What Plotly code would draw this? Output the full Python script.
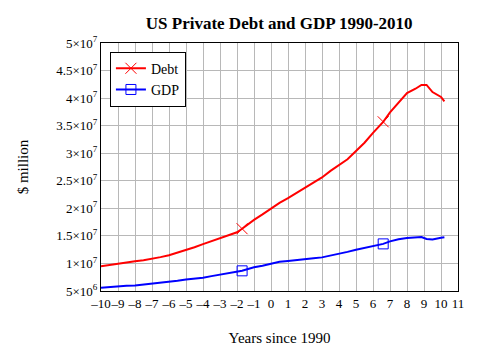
import plotly.graph_objects as go

years = [-10, -9.5, -9, -8.5, -8, -7.5, -7, -6.5, -6, -5.5, -5, -4.5, -4, -3.5, -3, -2.5, -2, -1.7,
         -1.5, -1, -0.5, 0, 0.5, 1, 1.5, 2, 2.5, 3, 3.5, 4, 4.5, 5, 5.5, 6, 6.6,
         7, 7.5, 8, 8.5, 8.85, 9.15, 9.5, 10, 10.2]
debt = [9.5, 9.75, 10.0, 10.2, 10.4, 10.6, 10.85, 11.15, 11.5, 11.95, 12.4, 12.95, 13.5, 14.05, 14.6, 15.15, 15.65, 16.3,
        16.8, 17.9, 18.9, 20.0, 21.0, 21.85, 22.8, 23.8, 24.6, 25.6, 26.8, 27.85, 28.9, 30.4, 31.9, 33.7, 35.7,
        37.4, 39.2, 40.9, 41.7, 42.4, 42.4, 41.1, 40.2, 39.4]
gdp = [5.6, 5.75, 5.85, 5.95, 6.0, 6.15, 6.3, 6.45, 6.6, 6.85, 7.1, 7.25, 7.4, 7.7, 7.95, 8.25, 8.5, 8.66,
       8.85, 9.3, 9.6, 10.0, 10.3, 10.45, 10.65, 10.8, 10.95, 11.1, 11.4, 11.75, 12.1, 12.5, 12.85, 13.2, 13.55,
       14.0, 14.4, 14.6, 14.7, 14.8, 14.45, 14.35, 14.65, 14.75]
debt = [v * 1e6 for v in debt]
gdp = [v * 1e6 for v in gdp]
marker_idx = [17, 34]

x_ticks = list(range(-10, 12))
x_labels = [("–" + str(-v)) if v < 0 else str(v) for v in x_ticks]
y_ticks = [5e6, 1e7, 1.5e7, 2e7, 2.5e7, 3e7, 3.5e7, 4e7, 4.5e7, 5e7]
y_labels = ["5×10<sup>6</sup>", "1×10<sup>7</sup>", "1.5×10<sup>7</sup>", "2×10<sup>7</sup>",
            "2.5×10<sup>7</sup>", "3×10<sup>7</sup>", "3.5×10<sup>7</sup>", "4×10<sup>7</sup>",
            "4.5×10<sup>7</sup>", "5×10<sup>7</sup>"]

FONT = "Liberation Serif"
GRID = "#b8b8b8"
fig = go.Figure()
fig.add_trace(go.Scatter(
    x=years, y=debt, name="Debt", mode="lines+markers",
    line=dict(color="#ff0000", width=2),
    marker=dict(symbol="x-thin", size=11, color="#ff0000", line=dict(color="#ff0000", width=1)),
    selectedpoints=marker_idx, unselected=dict(marker=dict(opacity=0)),
    selected=dict(marker=dict(opacity=1)),
))
fig.add_trace(go.Scatter(
    x=years, y=gdp, name="GDP", mode="lines+markers",
    line=dict(color="#0000ff", width=2),
    marker=dict(symbol="square-open", size=10, color="#0000ff", line=dict(color="#0000ff", width=1)),
    selectedpoints=marker_idx, unselected=dict(marker=dict(opacity=0)),
    selected=dict(marker=dict(opacity=1)),
))

fig.update_layout(
    template="none",
    width=483, height=351,
    margin=dict(l=101, r=25, t=43, b=60),
    paper_bgcolor="white", plot_bgcolor="white",
    font=dict(family=FONT, size=14, color="black"),
    title=dict(text="<b>US Private Debt and GDP 1990-2010</b>", x=0.578, xanchor="center",
               y=0.935, yanchor="middle", font=dict(family=FONT, size=17, color="black")),
    showlegend=True,
    legend=dict(x=0.025, y=0.965, xanchor="left", yanchor="top", bgcolor="white",
                bordercolor="black", borderwidth=1, font=dict(family=FONT, size=14),
                tracegroupgap=0, itemwidth=30),
    xaxis=dict(range=[-10, 11], tickvals=x_ticks, ticktext=x_labels, tickangle=0, showgrid=True,
               gridcolor=GRID, gridwidth=1, zeroline=False, showline=True, linecolor="black",
               linewidth=1, mirror=True, ticks="", tickfont=dict(family=FONT, size=13),
               title=dict(text="Years since 1990", font=dict(family=FONT, size=15), standoff=22)),
    yaxis=dict(range=[5e6, 5e7], tickvals=y_ticks, ticktext=y_labels, showgrid=True,
               gridcolor=GRID, gridwidth=1, zeroline=False, showline=True, linecolor="black",
               linewidth=1, mirror=True, ticks="", tickfont=dict(family=FONT, size=13),
               title=dict(text="$ million", font=dict(family=FONT, size=15), standoff=24)),
)
fig.write_html("out.html")
